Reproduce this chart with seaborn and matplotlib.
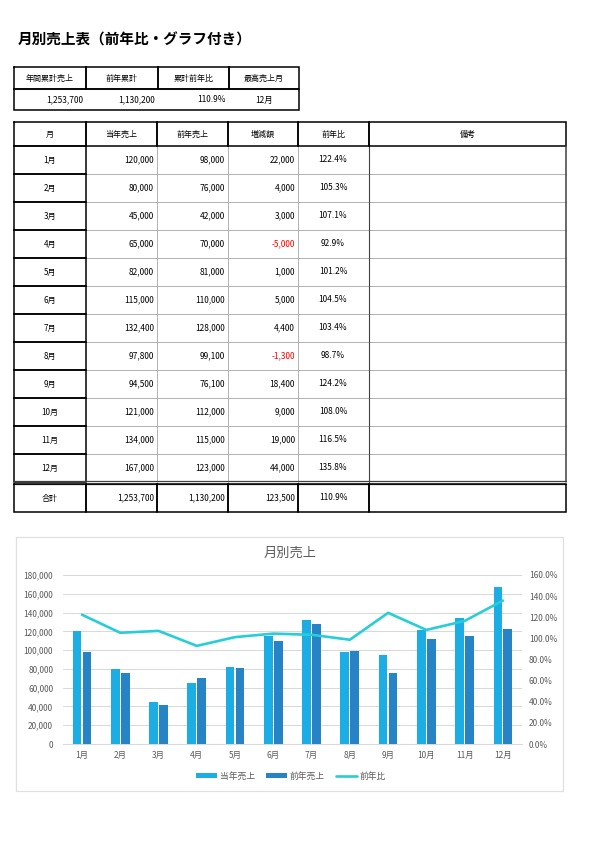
import numpy as np
import pandas as pd
import matplotlib
matplotlib.use('Agg')
import matplotlib.pyplot as plt
import seaborn as sns
from matplotlib.lines import Line2D

sns.set_theme(style='white')
plt.rcParams['font.family'] = ['Noto Sans CJK JP', 'DejaVu Sans']
plt.rcParams['text.color'] = 'black'

# ---------------- data ----------------
months = ['1月', '2月', '3月', '4月', '5月', '6月',
          '7月', '8月', '9月', '10月', '11月', '12月']
sales_this = [120000, 80000, 45000, 65000, 82000, 115000,
              132400, 97800, 94500, 121000, 134000, 167000]
sales_prev = [98000, 76000, 42000, 70000, 81000, 110000,
              128000, 99100, 76100, 112000, 115000, 123000]
diff = [22000, 4000, 3000, -5000, 1000, 5000,
        4400, -1300, 18400, 9000, 19000, 44000]
ratio = [122.4, 105.3, 107.1, 92.9, 101.2, 104.5,
         103.4, 98.7, 124.2, 108.0, 116.5, 135.8]

summary_head = ['年間累計売上', '前年累計', '累計前年比', '最高売上月']
summary_vals = ['1,253,700', '1,130,200', '110.9%', '12月']
total_row = ['合計', '1,253,700', '1,130,200', '123,500', '110.9%']

table_head = ['月', '当年売上', '前年売上', '増減額', '前年比', '備考']

C_THIS = '#1CADE4'
C_PREV = '#2683C6'
C_LINE = '#27CED7'
GRID = '#d9d9d9'
TXT = '#595959'
THIN = '#a6a6a6'

FS_HEAD = 5.8   # CJK labels in tables
FS_NUM = 6.0    # numbers in tables
FS_AX = 6.0     # chart tick labels

fig = plt.figure(figsize=(5.95, 8.42), dpi=100)

# ---------------- page layer (pixel coords) ----------------
bg = fig.add_axes([0, 0, 1, 1])
bg.set_xlim(0, 595)
bg.set_ylim(842, 0)
bg.axis('off')

bg.text(18, 40, '月別売上表（前年比・グラフ付き）', fontsize=10.5,
        fontweight='bold', va='center', ha='left')

TH = 1.1   # thick line (pt)
TN = 0.6   # thin line


def box(x0, y0, x1, y1, color='black', lw=TH):
    bg.plot([x0, x1, x1, x0, x0], [y0, y0, y1, y1, y0], color=color, lw=lw,
            solid_joinstyle='miter')


# summary table
scol = [14, 86, 158, 229, 299]
for i in range(4):
    box(scol[i], 67, scol[i + 1], 89)
    bg.text((scol[i] + scol[i + 1]) / 2, 78, summary_head[i], fontsize=FS_HEAD,
            ha='center', va='center')
for i in range(4):
    if i < 3:
        bg.text(scol[i + 1] - 3, 100, summary_vals[i], fontsize=FS_NUM,
                ha='right', va='center')
    else:
        bg.text((scol[i] + scol[i + 1]) / 2, 100, summary_vals[i],
                fontsize=FS_NUM, ha='center', va='center')
box(14, 89, 299, 110)

# main table
cols = [14, 86, 157, 228, 298, 369, 566]
top, head_b, row_h = 122, 146, 28
rows_b = [head_b + row_h * (i + 1) for i in range(12)]
tot_top, tot_b = rows_b[-1], 512

# thin inner grid of data area
for yb in rows_b[:-1]:
    bg.plot([86, 566], [yb, yb], color=THIN, lw=TN)
for xc in [157, 228, 298]:
    bg.plot([xc, xc], [head_b, tot_top], color=THIN, lw=TN)
bg.plot([369, 369], [head_b, tot_top], color='#404040', lw=0.8)

# header cells
for i in range(6):
    box(cols[i], top, cols[i + 1], head_b)
    bg.text((cols[i] + cols[i + 1]) / 2, (top + head_b) / 2, table_head[i],
            fontsize=FS_HEAD, ha='center', va='center')

# month column boxes + values
prev_y = head_b
for i, m in enumerate(months):
    yb = rows_b[i]
    yc = (prev_y + yb) / 2
    box(14, prev_y, 86, yb)
    bg.text(50, yc, m, fontsize=FS_HEAD, ha='center', va='center')
    bg.text(154, yc, f'{sales_this[i]:,}', fontsize=FS_NUM, ha='right', va='center')
    bg.text(225, yc, f'{sales_prev[i]:,}', fontsize=FS_NUM, ha='right', va='center')
    bg.text(295, yc, f'{diff[i]:,}', fontsize=FS_NUM, ha='right', va='center',
            color='red' if diff[i] < 0 else 'black')
    bg.text(333, yc, f'{ratio[i]:.1f}%', fontsize=FS_NUM, ha='center', va='center')
    prev_y = yb

# outer border of data area
bg.plot([566, 566], [head_b, tot_top], color='#404040', lw=TH)

# total row (double line on top)
bg.plot([14, 566], [tot_top - 1.5, tot_top - 1.5], color='#404040', lw=0.9)
bg.plot([14, 566], [tot_top + 1.5, tot_top + 1.5], color='#404040', lw=0.9)
for i in range(6):
    box(cols[i], tot_top + 1.5, cols[i + 1], tot_b, lw=TH)
tc = (tot_top + tot_b) / 2 + 1
bg.text(50, tc, total_row[0], fontsize=FS_HEAD, ha='center', va='center')
for i, xr in enumerate([154, 225, 295]):
    bg.text(xr, tc, total_row[i + 1], fontsize=FS_NUM, ha='right', va='center')
bg.text(333, tc, total_row[4], fontsize=FS_NUM, ha='center', va='center')

# chart frame
box(16, 537, 563, 791, color='#e0e0e0', lw=0.9)
bg.text(290, 553, '月別売上', fontsize=9.5, color=TXT, ha='center', va='center')

# ---------------- chart ----------------
ax = fig.add_axes([62.9 / 595, (842 - 744) / 842, (522 - 62.9) / 595, 169 / 842])
ax.set_facecolor('none')

df = pd.DataFrame({
    'month': months * 2,
    'series': ['当年売上'] * 12 + ['前年売上'] * 12,
    'value': sales_this + sales_prev,
})
sns.barplot(data=df, x='month', y='value', hue='series',
            hue_order=['当年売上', '前年売上'],
            palette=[C_THIS, C_PREV], saturation=1,
            width=0.52, gap=0.12, linewidth=0, ax=ax, zorder=3)
handles, labels = ax.get_legend_handles_labels()
if ax.get_legend() is not None:
    ax.get_legend().remove()

ax.set_xlim(-0.5, 11.5)
ax.set_ylim(0, 180000)
ax.set_yticks(np.arange(0, 180001, 20000))
ax.set_yticklabels([f'{v:,}' for v in np.arange(0, 180001, 20000)])
ax.grid(axis='y', color=GRID, lw=0.75, zorder=0)
ax.set_axisbelow(True)
ax.set_xlabel('')
ax.set_ylabel('')
for s in ['top', 'left', 'right']:
    ax.spines[s].set_visible(False)
ax.spines['bottom'].set_color(GRID)
ax.spines['bottom'].set_linewidth(0.75)
ax.tick_params(axis='both', length=0, labelsize=FS_AX, colors=TXT)
ax.tick_params(axis='x', pad=5)
ax.tick_params(axis='y', pad=7)

ax2 = ax.twinx()
sns.lineplot(x=np.arange(len(months)), y=np.array(ratio) / 100, color=C_LINE,
             lw=1.9, ax=ax2, label='前年比')
if ax2.get_legend() is not None:
    ax2.get_legend().remove()
ax2.set_ylim(0, 1.6)
ax2.set_yticks(np.arange(0, 1.61, 0.2))
ax2.set_yticklabels([f'{v * 100:.1f}%' for v in np.arange(0, 1.61, 0.2)])
for s in ['top', 'left', 'right', 'bottom']:
    ax2.spines[s].set_visible(False)
ax2.tick_params(axis='y', length=0, labelsize=FS_AX, colors=TXT, pad=5)
ax2.set_ylabel('')

handles = handles + [Line2D([0], [0], color=C_LINE, lw=1.9)]
labels = labels + ['前年比']
fig.legend(handles, labels, loc='center', bbox_to_anchor=(291 / 595, 1 - 776 / 842),
           ncol=3, frameon=False, fontsize=6.3, labelcolor=TXT,
           handlelength=2.4, handleheight=0.6, columnspacing=1.3,
           handletextpad=0.3)

fig.savefig('out.png', dpi=100)
